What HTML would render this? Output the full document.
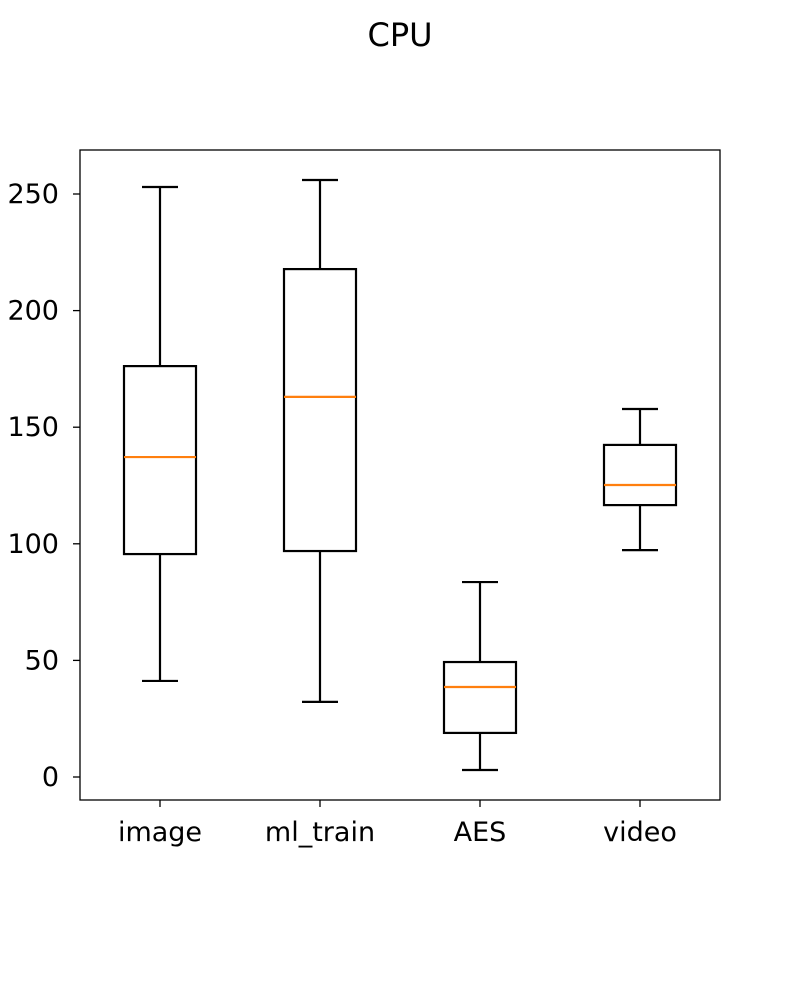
<!DOCTYPE html>
<html><head><meta charset="utf-8"><style>
body{margin:0;background:#fff}
svg{display:block;font-family:"DejaVu Sans","Liberation Sans",sans-serif}
</style></head><body>
<svg id="chart" width="800" height="1000">
<text x="400" y="46" text-anchor="middle" font-size="32">CPU</text>
<g id="plot"></g>
<rect x="80" y="150" width="640" height="650" fill="none" stroke="#000" stroke-width="1.3"/>
</svg>
<script>
const categories=["image","ml_train","AES","video"];
const whiskerLow=[41.2,32.2,3,97.3];
const q1=[95.6,96.9,18.9,116.6];
const median=[137.2,163,38.6,125.2];
const q3=[176.2,217.8,49.3,142.4];
const whiskerHigh=[253,256,83.6,157.8];
const yTicks=[0,50,100,150,200,250];

const NS="http://www.w3.org/2000/svg";
const g=document.getElementById('plot');
const y=v=>777-2.332*v;
const x=i=>160+160*i;
function mk(tag,attrs,parent){const e=document.createElementNS(NS,tag);for(const k in attrs)e.setAttribute(k,attrs[k]);(parent||g).appendChild(e);return e;}
yTicks.forEach(t=>{
  const gt=mk('g',{});
  
  
  mk('line',{x1:73,x2:80,y1:y(t),y2:y(t),stroke:'#000','stroke-width':1.3},gt);
  const tx=mk('text',{x:59,y:y(t)+9,'text-anchor':'end','font-size':27},gt);
  tx.textContent=t;
});
categories.forEach((c,i)=>{
  const cx=x(i);
  const bg=mk('g',{});
  
  
  const s={stroke:'#000','stroke-width':2.2,fill:'none'};
  mk('line',Object.assign({x1:cx,x2:cx,y1:y(q1[i]),y2:y(whiskerLow[i])},s),bg);
  mk('line',Object.assign({x1:cx,x2:cx,y1:y(q3[i]),y2:y(whiskerHigh[i])},s),bg);
  mk('line',Object.assign({x1:cx-18,x2:cx+18,y1:y(whiskerLow[i]),y2:y(whiskerLow[i])},s),bg);
  mk('line',Object.assign({x1:cx-18,x2:cx+18,y1:y(whiskerHigh[i]),y2:y(whiskerHigh[i])},s),bg);
  mk('rect',Object.assign({x:cx-36,width:72,y:y(q3[i]),height:y(q1[i])-y(q3[i])},s),bg);
  const m=mk('line',{x1:cx-36,x2:cx+36,y1:y(median[i]),y2:y(median[i]),stroke:'#ff7f0e','stroke-width':2.2},bg);
  
  
  const xt=mk('g',{});
  
  
  mk('line',{x1:cx,x2:cx,y1:800,y2:807,stroke:'#000','stroke-width':1.3},xt);
  const tx=mk('text',{x:cx,y:841,'text-anchor':'middle','font-size':27},xt);
  tx.textContent=c;
});
</script>
</body></html>
